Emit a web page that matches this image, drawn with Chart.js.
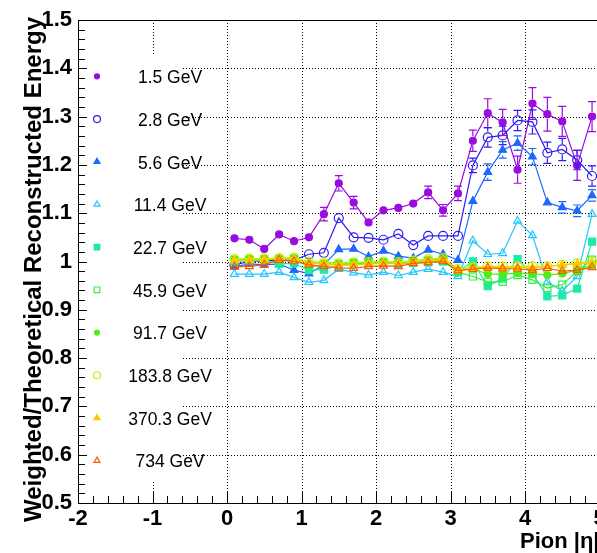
<!DOCTYPE html>
<html>
<head>
<meta charset="utf-8">
<script src="https://cdn.jsdelivr.net/npm/chart.js@4.4.1/dist/chart.umd.min.js"></script>
<style>
  html, body { margin: 0; padding: 0; background: #fff; overflow: hidden; width: 597px; height: 553px; }
</style>
</head>
<body>
<canvas id="c" width="620" height="553"></canvas>
<script>
// pion |eta| bin centres
let eta = [0.1, 0.3, 0.5, 0.7, 0.9, 1.1, 1.3, 1.5, 1.7, 1.9, 2.1, 2.3, 2.5, 2.7, 2.9, 3.1, 3.3, 3.5, 3.7, 3.9, 4.1, 4.3, 4.5, 4.7, 4.9];

let labels = ['1.5 GeV', '2.8 GeV', '5.6 GeV', '11.4 GeV', '22.7 GeV', '45.9 GeV', '91.7 GeV', '183.8 GeV', '370.3 GeV', '734 GeV'];

let gev1p5 = [1.048, 1.045, 1.026, 1.056, 1.042, 1.050, 1.098, 1.162, 1.122, 1.081, 1.106, 1.111, 1.120, 1.143, 1.106, 1.141, 1.250, 1.307, 1.288, 1.190, 1.327, 1.305, 1.290, 1.199, 1.300];
let gev2p8 = [0.993, 1.000, 1.002, 1.003, 1.003, 1.015, 1.018, 1.090, 1.050, 1.049, 1.045, 1.057, 1.034, 1.053, 1.053, 1.053, 1.199, 1.257, 1.261, 1.292, 1.289, 1.225, 1.232, 1.210, 1.177];
let gev5p6 = [0.989, 0.995, 0.993, 0.995, 0.982, 0.975, 0.993, 1.025, 1.026, 1.010, 1.022, 1.011, 1.007, 1.024, 1.015, 1.003, 1.125, 1.185, 1.231, 1.245, 1.217, 1.122, 1.112, 1.105, 1.137];
let gev11p4 = [0.974, 0.974, 0.974, 0.978, 0.967, 0.957, 0.961, 0.984, 0.977, 0.972, 0.978, 0.971, 0.978, 0.984, 0.978, 0.969, 1.043, 1.015, 1.017, 1.084, 1.054, 0.958, 0.939, 0.969, 1.098];
let gev22p7 = [1.000, 1.002, 1.003, 0.995, 0.996, 0.982, 0.983, 0.992, 0.995, 0.996, 0.997, 0.995, 0.997, 0.998, 1.000, 0.980, 1.000, 0.949, 0.965, 1.005, 0.975, 0.928, 0.930, 0.944, 1.041];
let gev45p9 = [1.003, 1.004, 1.004, 1.005, 1.006, 0.990, 0.992, 0.995, 0.997, 0.997, 0.998, 0.997, 0.999, 1.002, 1.004, 0.978, 0.969, 0.958, 0.958, 0.972, 0.962, 0.945, 0.952, 0.980, 1.004];
let gev91p7 = [1.004, 1.005, 1.005, 1.006, 1.006, 0.996, 0.996, 0.994, 0.997, 0.998, 0.999, 0.998, 1.000, 1.003, 1.005, 0.982, 0.985, 0.974, 0.974, 0.976, 0.975, 0.972, 0.975, 0.982, 0.993];
let gev183p8 = [1.005, 1.006, 1.006, 1.007, 1.008, 1.000, 0.998, 0.996, 0.998, 0.999, 1.000, 0.999, 1.002, 1.005, 1.007, 0.985, 0.988, 0.990, 0.990, 0.990, 0.990, 0.990, 0.993, 0.996, 1.000];
let gev370p3 = [1.002, 1.003, 1.004, 1.006, 1.005, 0.997, 0.995, 0.992, 0.993, 0.995, 0.996, 0.996, 0.999, 1.002, 1.004, 0.984, 0.987, 0.988, 0.988, 0.988, 0.987, 0.990, 0.993, 0.995, 0.998];
let gev734 = [0.989, 0.990, 0.993, 1.003, 1.000, 0.993, 0.990, 0.987, 0.986, 0.990, 0.991, 0.990, 0.996, 0.998, 1.000, 0.981, 0.984, 0.987, 0.985, 0.985, 0.982, 0.986, 0.980, 0.982, 0.988];

// errors, only big enough to see for the lowest energies
let err1p5 = [0.004, 0.004, 0.004, 0.004, 0.004, 0.005, 0.014, 0.016, 0.013, 0.006, 0.006, 0.007, 0.008, 0.013, 0.012, 0.015, 0.022, 0.030, 0.027, 0.028, 0.033, 0.035, 0.031, 0.031, 0.031];
let err2p8 = [0.003, 0.003, 0.003, 0.003, 0.003, 0.004, 0.004, 0.005, 0.004, 0.004, 0.004, 0.004, 0.004, 0.004, 0.004, 0.004, 0.015, 0.020, 0.019, 0.021, 0.025, 0.022, 0.023, 0.020, 0.021];
let err5p6 = [0.003, 0.003, 0.003, 0.003, 0.003, 0.003, 0.003, 0.004, 0.004, 0.003, 0.003, 0.003, 0.003, 0.003, 0.003, 0.003, 0.010, 0.017, 0.017, 0.015, 0.017, 0.010, 0.012, 0.012, 0.012];

let series = [gev1p5, gev2p8, gev5p6, gev11p4, gev22p7, gev45p9, gev91p7, gev183p8, gev370p3, gev734];
let errors = [err1p5, err2p8, err5p6, null, null, null, null, null, null, null];

let colors = ['#9a0be0', '#2e1cf2', '#1c68ff', '#22c6ff', '#1eeaa8', '#30ee44', '#50ec14', '#c0f400', '#ffc800', '#ff5a00'];
let styles = ['circle', 'circle', 'triangle', 'triangle', 'rect', 'rect', 'circle', 'circle', 'triangle', 'triangle'];
let filled = [true, false, true, false, true, false, true, false, true, false];

function markerRadius(i) {
    if (styles[i] === 'rect') return 5;
    if (styles[i] === 'triangle') return 4.5;
    return filled[i] ? 3.5 : 4.5;
}

let font = 'Liberation Sans, Arial, Helvetica, sans-serif';

let rootStyle = {
    id: 'rootStyle',
    beforeDatasetsDraw(chart) {
        let ctx = chart.ctx, a = chart.chartArea, x = chart.scales.x, y = chart.scales.y;
        ctx.save();
        // dotted grid
        ctx.strokeStyle = '#000';
        ctx.lineWidth = 1;
        ctx.setLineDash([1, 2]);
        x.ticks.forEach(function(t) {
            if (t.value <= x.min || t.value >= x.max) return;
            let px = Math.round(x.getPixelForValue(t.value)) + 0.5;
            ctx.beginPath(); ctx.moveTo(px, a.top); ctx.lineTo(px, a.bottom); ctx.stroke();
        });
        y.ticks.forEach(function(t) {
            if (t.value <= y.min + 1e-6 || t.value >= y.max - 1e-6) return;
            let py = Math.round(y.getPixelForValue(t.value)) + 0.5;
            ctx.beginPath(); ctx.moveTo(a.left, py); ctx.lineTo(a.right, py); ctx.stroke();
        });
        ctx.setLineDash([]);

        // legend box (white, no border)
        let lx0 = a.left + 9, lx1 = 183, ly0 = 55, ly1 = 482;
        ctx.fillStyle = '#fff';
        ctx.fillRect(lx0, ly0, lx1 - lx0, ly1 - ly0);
        let step = (ly1 - ly0) / labels.length;
        labels.forEach(function(lab, i) {
            let cy = ly0 + (i + 0.5) * step;
            ctx.strokeStyle = colors[i];
            ctx.fillStyle = filled[i] ? colors[i] : 'rgba(0,0,0,0)';
            ctx.lineWidth = 1.2;
            Chart.helpers.drawPoint(ctx, {pointStyle: styles[i], radius: markerRadius(i) - 1, rotation: 0, borderWidth: 1.2}, 97, cy);
            ctx.fillStyle = '#000';
            ctx.font = '17.5px ' + font;
            ctx.textAlign = 'center';
            ctx.textBaseline = 'middle';
            ctx.fillText(lab, 170, cy + 2);
        });
        ctx.restore();
    },
    afterDatasetsDraw(chart) {
        let ctx = chart.ctx, a = chart.chartArea, x = chart.scales.x, y = chart.scales.y;
        ctx.save();
        // error bars with caps
        chart.data.datasets.forEach(function(ds, i) {
            if (!ds.errs) return;
            let meta = chart.getDatasetMeta(i);
            ctx.strokeStyle = ds.borderColor;
            ctx.lineWidth = 1.2;
            meta.data.forEach(function(pt, j) {
                let v = series[i][j], e = ds.errs[j];
                let top = y.getPixelForValue(v + e), bot = y.getPixelForValue(v - e);
                let r = markerRadius(i) + 1;
                if (pt.y - top <= r) return;
                ctx.beginPath();
                ctx.moveTo(pt.x, pt.y - r); ctx.lineTo(pt.x, top);
                ctx.moveTo(pt.x, pt.y + r); ctx.lineTo(pt.x, bot);
                ctx.moveTo(pt.x - 4, top); ctx.lineTo(pt.x + 4, top);
                ctx.moveTo(pt.x - 4, bot); ctx.lineTo(pt.x + 4, bot);
                ctx.stroke();
            });
        });

        // frame and tick marks
        ctx.strokeStyle = '#000';
        ctx.lineWidth = 1;
        ctx.strokeRect(Math.round(a.left) + 0.5, Math.round(a.top) + 0.5, a.right - a.left, a.bottom - a.top);
        ctx.beginPath();
        for (let k = -10; k <= 25; k++) {
            let px = Math.round(x.getPixelForValue(k / 5)) + 0.5;
            let len = k % 5 === 0 ? 11 : 7;
            ctx.moveTo(px, a.bottom); ctx.lineTo(px, a.bottom - len);
        }
        for (let k = 25; k <= 75; k++) {
            let py = Math.round(y.getPixelForValue(k / 50)) + 0.5;
            let len = k % 5 === 0 ? 9 : 7;
            ctx.moveTo(a.left, py); ctx.lineTo(a.left + len, py);
        }
        ctx.stroke();

        // axis titles
        ctx.fillStyle = '#000';
        ctx.font = 'bold 24px ' + font;
        ctx.textBaseline = 'alphabetic';
        ctx.save();
        ctx.translate(41, 17);
        ctx.rotate(-Math.PI / 2);
        ctx.textAlign = 'right';
        ctx.fillText('Weighted/Theoretical Reconstructed Energy', 0, 0);
        ctx.restore();
        ctx.font = 'bold 22px ' + font;
        ctx.textAlign = 'right';
        ctx.fillText('Pion |\u03b7|', a.right, 548);
        ctx.restore();
    }
};

let chart = new Chart(document.getElementById('c'), {
    type: 'line',
    data: {
        datasets: series.map(function(vals, i) {
            return {
                label: labels[i],
                data: eta.map(function(e, j) { return {x: e, y: vals[j]}; }),
                errs: errors[i],
                borderColor: colors[i],
                backgroundColor: filled[i] ? colors[i] : 'rgba(0,0,0,0)',
                pointBorderColor: colors[i],
                pointBackgroundColor: filled[i] ? colors[i] : 'rgba(0,0,0,0)',
                pointStyle: styles[i],
                pointRadius: markerRadius(i),
                pointBorderWidth: 1.2,
                borderWidth: 1.2,
                tension: 0,
                fill: false,
                order: 10 - i
            };
        })
    },
    options: {
        responsive: false,
        animation: false,
        devicePixelRatio: 1,
        layout: {padding: {top: 20, right: 20.5, left: 0, bottom: 0}},
        plugins: {legend: {display: false}, tooltip: {enabled: false}},
        scales: {
            x: {
                type: 'linear',
                min: -2,
                max: 5,
                afterFit: function(s) { s.height = 50; },
                grid: {display: false, drawTicks: false, tickLength: 0},
                border: {display: false},
                ticks: {
                    stepSize: 1,
                    autoSkip: false,
                    maxRotation: 0,
                    padding: 3,
                    color: '#000',
                    font: {family: font, size: 22, weight: 'bold'},
                    callback: function(v) { return String(v); }
                }
            },
            y: {
                min: 0.5,
                max: 1.5,
                afterFit: function(s) { s.width = 78; },
                grid: {display: false, drawTicks: false, tickLength: 0},
                border: {display: false},
                ticks: {
                    stepSize: 0.1,
                    autoSkip: false,
                    padding: 6,
                    color: '#000',
                    font: {family: font, size: 22, weight: 'bold'},
                    callback: function(v) { return String(Math.round(v * 10) / 10); }
                }
            }
        }
    },
    plugins: [rootStyle]
});
</script>
</body>
</html>
